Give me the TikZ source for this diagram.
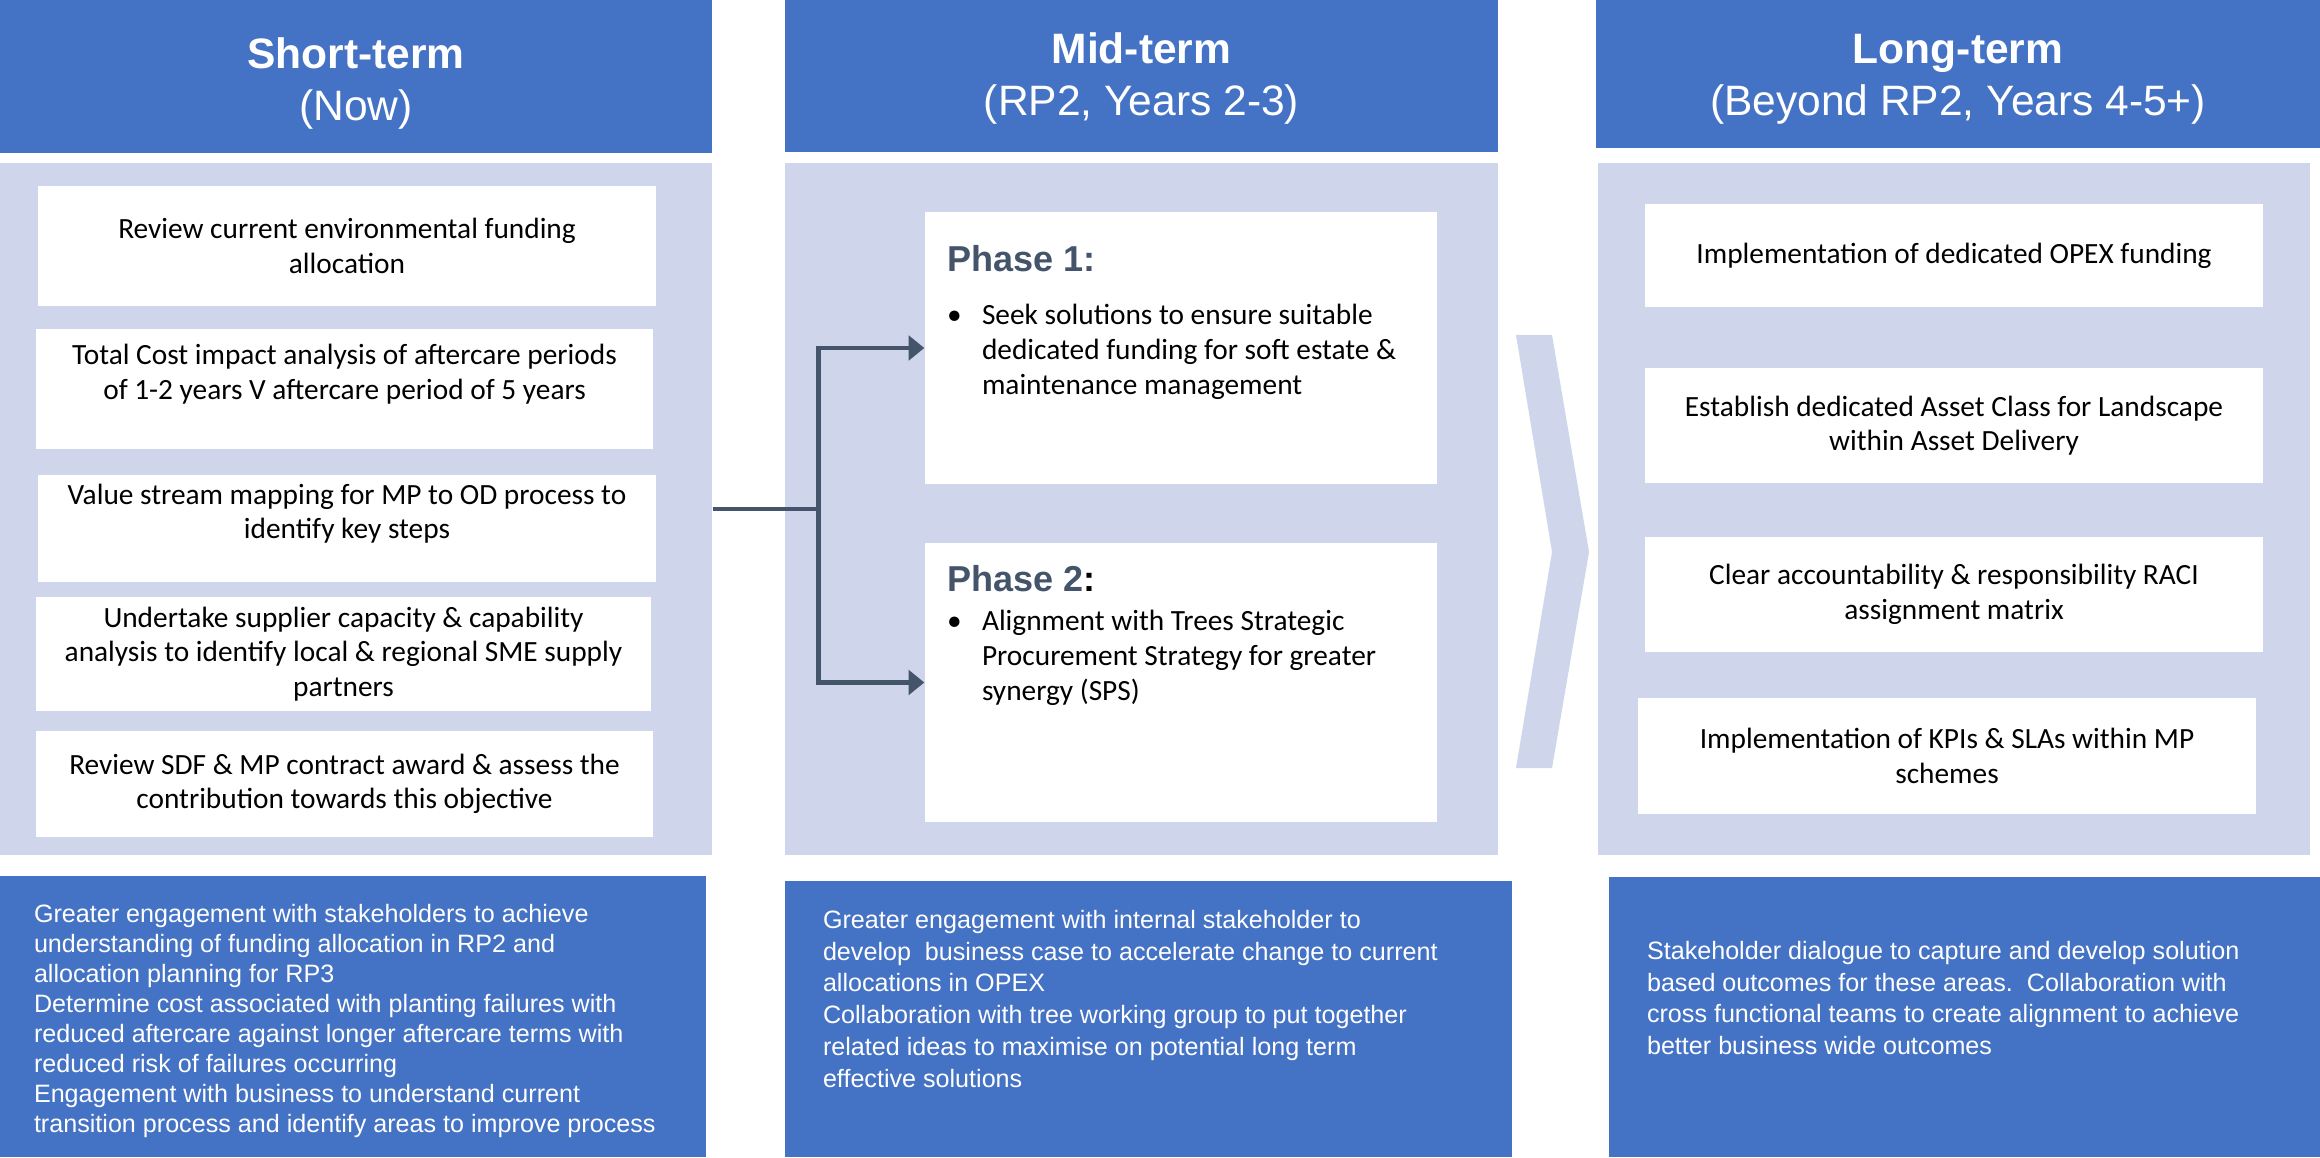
\documentclass[tikz,border=0pt]{standalone}
\usepackage{fontspec}
\setmainfont{Carlito}
\newfontfamily\arialfont{Liberation Sans}
\usetikzlibrary{arrows.meta,positioning,calc}
\definecolor{planBlue}{RGB}{68,114,196}
\definecolor{planPanel}{RGB}{207,213,234}
\definecolor{planSlate}{RGB}{68,84,106}
% lines hung from the baseline of the first one
\newcommand{\toplines}[1]{\begin{tabular}[t]{@{}l@{}}#1\end{tabular}}

\begin{document}
\begin{tikzpicture}[x=0.1mm,y=-0.1mm,
    header/.style={fill=planBlue,text=white,align=center,inner sep=0pt,
      font=\arialfont\fontsize{12.1}{14.8}\selectfont},
    panel/.style={fill=planPanel,inner sep=0pt},
    item/.style={fill=white,align=center,inner sep=0pt,
      font=\fontsize{8.35}{9.8}\selectfont},
    note/.style={fill=planBlue,inner sep=0pt},
    notetext/.style={text=white,inner sep=0pt,anchor=base west,
      font=\arialfont\fontsize{7.15}{8.55}\selectfont},
    phasetitle/.style={text=planSlate,inner sep=0pt,anchor=base west,
      font=\arialfont\bfseries\fontsize{10.25}{12}\selectfont},
    bullettext/.style={inner sep=0pt,anchor=base west,
      font=\fontsize{8.35}{9.95}\selectfont},
    conn/.style={planSlate,line width=1.4pt}
  ]
  \useasboundingbox (0,0) rectangle (2320,1157);

  % Headers
  \node[header,minimum width=7.12cm,minimum height=1.53cm] (hshort) at (356,76.5)
    {\rule{0pt}{4.45mm}\bfseries Short-term\\(Now)};
  \node[header,minimum width=7.13cm,minimum height=1.52cm] (hmid) at (1141.5,76)
    {\rule{0pt}{3.65mm}\bfseries Mid-term\\(RP2, Years 2-3)};
  \node[header,minimum width=7.24cm,minimum height=1.48cm] (hlong) at (1958,74)
    {\rule{0pt}{3.95mm}\bfseries Long-term\\(Beyond RP2, Years 4-5+)};

  % Panels
  \node[panel,minimum width=7.12cm,minimum height=6.92cm] (pshort) at (356,509) {};
  \node[panel,minimum width=7.13cm,minimum height=6.92cm] (pmid) at (1141.5,509) {};
  \node[panel,minimum width=7.12cm,minimum height=6.92cm] (plong) at (1954,509) {};

  % Chevron
  \fill[planPanel] (1516,335) -- (1552,335) -- (1589,552) -- (1552,768)
    -- (1516,768) -- (1552,552) -- cycle;

  % Short-term items
  \node[item,minimum width=6.18cm,minimum height=1.20cm] (s1) at (347,246)
    {Review current environmental funding\\allocation};
  \node[item,minimum width=6.17cm,minimum height=1.20cm] (s2) at (344.5,389)
    {Total Cost impact analysis of aftercare periods\\of 1-2 years V aftercare period of 5 years\\ \mbox{}};
  \node[item,minimum width=6.18cm,minimum height=1.07cm] (s3) at (347,528.5)
    {Value stream mapping for MP to OD process to\\identify key steps\\ \mbox{}};
  \node[item,minimum width=6.15cm,minimum height=1.14cm] (s4) at (343.5,654)
    {Undertake supplier capacity \& capability\\analysis to identify local \& regional SME supply\\partners};
  \node[item,minimum width=6.17cm,minimum height=1.06cm] (s5) at (344.5,784)
    {Review SDF \& MP contract award \& assess the\\contribution towards this objective};

  % Mid-term phases
  \node[item,minimum width=5.12cm,minimum height=2.72cm] (ph1) at (1181,348) {};
  \node[item,minimum width=5.12cm,minimum height=2.79cm] (ph2) at (1181,682.5) {};
  \node[phasetitle] (ph1t) at ([shift={(22,60)}]ph1.north west) {Phase 1:};
  \node[bullettext] (ph1b) at ([shift={(22,113)}]ph1.north west) {\textbullet};
  \node[bullettext] (ph1x) at ([shift={(57,113)}]ph1.north west)
    {\toplines{Seek solutions to ensure suitable\\dedicated funding for soft estate \&\\maintenance management}};
  \node[phasetitle] (ph2t) at ([shift={(22,49)}]ph2.north west) {Phase 2\textcolor{black}{:}};
  \node[bullettext] (ph2b) at ([shift={(22,88)}]ph2.north west) {\textbullet};
  \node[bullettext] (ph2x) at ([shift={(57,88)}]ph2.north west)
    {\toplines{Alignment with Trees Strategic\\Procurement Strategy for greater\\synergy (SPS)}};

  % Long-term items
  \node[item,minimum width=6.18cm,minimum height=1.03cm] (l1) at (1954,255.5)
    {Implementation of dedicated OPEX funding};
  \node[item,minimum width=6.18cm,minimum height=1.15cm] (l2) at (1954,425.5)
    {Establish dedicated Asset Class for Landscape\\within Asset Delivery};
  \node[item,minimum width=6.18cm,minimum height=1.15cm] (l3) at (1954,594.5)
    {Clear accountability \& responsibility RACI\\assignment matrix};
  \node[item,minimum width=6.18cm,minimum height=1.16cm] (l4) at (1947,756)
    {Implementation of KPIs \& SLAs within MP\\schemes};

  % Connector
  \draw[conn] (pshort.east) -- ++(106,0) coordinate (split);
  \draw[conn,-{Triangle[length=4.5pt,width=7pt]}] (split) |- (ph1.west);
  \draw[conn,-{Triangle[length=4.5pt,width=7pt]}] (split) |- (ph2.west);

  % Notes
  \node[note,minimum width=7.06cm,minimum height=2.81cm] (nshort) at (353,1016.5) {};
  \node[note,minimum width=7.27cm,minimum height=2.76cm] (nmid) at (1148.5,1019) {};
  \node[note,minimum width=7.11cm,minimum height=2.80cm] (nlong) at (1964.5,1017) {};
  \node[notetext] (nshortx) at ([shift={(34,47)}]nshort.north west)
    {\toplines{Greater engagement with stakeholders to achieve\\understanding of funding allocation in RP2 and\\allocation planning for RP3\\Determine cost associated with planting failures with\\reduced aftercare against longer aftercare terms with\\reduced risk of failures occurring\\Engagement with business to understand current\\transition process and identify areas to improve process}};
  \node[notetext,font=\arialfont\fontsize{7.15}{9.05}\selectfont] (nmidx) at ([shift={(38,48)}]nmid.north west)
    {\toplines{Greater engagement with internal stakeholder to\\develop\ \ business case to accelerate change to current\\allocations in OPEX\\Collaboration with tree working group to put together\\related ideas to maximise on potential long term\\effective solutions}};
  \node[notetext,font=\arialfont\fontsize{7.15}{9.05}\selectfont] (nlongx) at ([shift={(38,83)}]nlong.north west)
    {\toplines{Stakeholder dialogue to capture and develop solution\\based outcomes for these areas.\ \ Collaboration with\\cross functional teams to create alignment to achieve\\better business wide outcomes}};
\end{tikzpicture}
\end{document}
